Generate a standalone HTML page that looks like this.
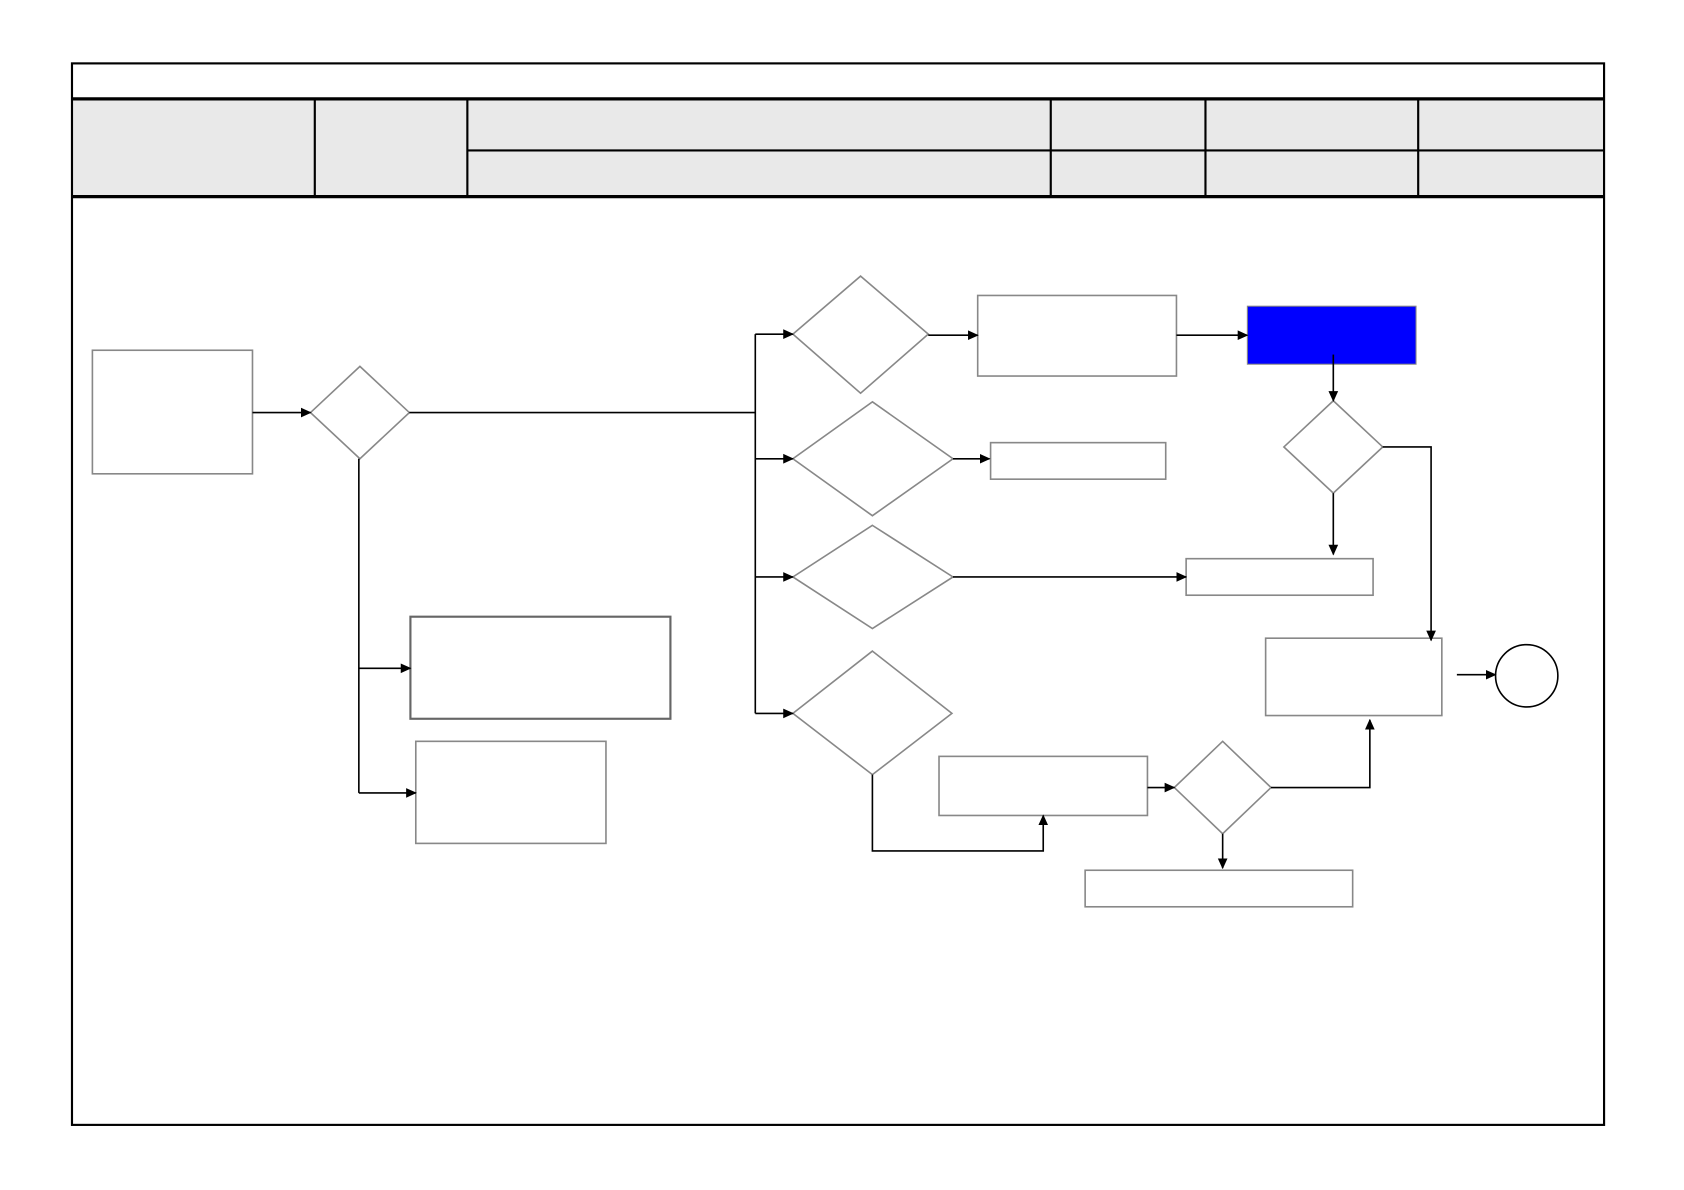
<!DOCTYPE html>
<html><head><meta charset="utf-8"><style>html,body{margin:0;padding:0;background:#fff}svg{display:block}</style></head>
<body>
<svg width="1684" height="1190" viewBox="0 0 1567.4 1107.6" preserveAspectRatio="none" xmlns="http://www.w3.org/2000/svg">
<defs><marker id="a" markerWidth="10" markerHeight="10" refX="9" refY="5" orient="auto" markerUnits="userSpaceOnUse"><path d="M0,0.5 L10,5 L0,9.5z" fill="#000"/></marker></defs>
<rect x="0" y="0" width="1568" height="1108" fill="#fff"/>
<rect x="67" y="92" width="1426" height="91" fill="#e9e9e9"/>
<rect x="67" y="59" width="1426" height="988" fill="none" stroke="#000" stroke-width="2"/>
<g stroke="#000" fill="none">
<line x1="67" y1="92" x2="1493" y2="92" stroke-width="3"/>
<line x1="67" y1="183" x2="1493" y2="183" stroke-width="3"/>
<line x1="435" y1="140" x2="1493" y2="140" stroke-width="2"/>
<line x1="293" y1="92" x2="293" y2="183" stroke-width="2"/>
<line x1="435" y1="92" x2="435" y2="183" stroke-width="2"/>
<line x1="978" y1="92" x2="978" y2="183" stroke-width="2"/>
<line x1="1122" y1="92" x2="1122" y2="183" stroke-width="2"/>
<line x1="1320" y1="92" x2="1320" y2="183" stroke-width="2"/>
</g>
<g fill="#fff" stroke="#888" stroke-width="1.5">
<rect x="86" y="326" width="149" height="115"/>
<polygon points="335,341 381,384 335,427 289,384"/>
<polygon points="801,257 864,311 801,366 738,311"/>
<polygon points="812,374 887,427 812,480 738,427"/>
<polygon points="812,489 887,537 812,585 738,537"/>
<polygon points="812,606 886,664 812,721 738,664"/>
<rect x="910" y="275" width="185" height="75"/>
<polygon points="1241,373 1287,416 1241,459 1195,416"/>
<rect x="922" y="412" width="163" height="34"/>
<rect x="1104" y="520" width="174" height="34"/>
<rect x="1178" y="594" width="164" height="72"/>
<rect x="874" y="704" width="194" height="55"/>
<polygon points="1138,690 1183,733 1138,776 1093,733"/>
<rect x="1010" y="810" width="249" height="34"/>
<rect x="382" y="574" width="242" height="95" stroke="#666" stroke-width="2"/>
<rect x="387" y="690" width="177" height="95"/>
</g>
<rect x="1161" y="285" width="157" height="54" fill="#0000ff" stroke="#888"/>
<circle cx="1421" cy="629" r="29" fill="#fff" stroke="#000" stroke-width="1.5"/>
<g stroke="#000" stroke-width="1.5" fill="none">
<line x1="235" y1="384" x2="289" y2="384" marker-end="url(#a)"/>
<line x1="381" y1="384" x2="703" y2="384"/>
<line x1="703" y1="311" x2="703" y2="664"/>
<line x1="703" y1="311" x2="738" y2="311" marker-end="url(#a)"/>
<line x1="703" y1="427" x2="738" y2="427" marker-end="url(#a)"/>
<line x1="703" y1="537" x2="738" y2="537" marker-end="url(#a)"/>
<line x1="703" y1="664" x2="738" y2="664" marker-end="url(#a)"/>
<line x1="864" y1="312" x2="910" y2="312" marker-end="url(#a)"/>
<line x1="1095" y1="312" x2="1161" y2="312" marker-end="url(#a)"/>
<line x1="1241" y1="330" x2="1241" y2="373" marker-end="url(#a)"/>
<line x1="1241" y1="459" x2="1241" y2="516" marker-end="url(#a)"/>
<polyline points="1287,416 1332,416 1332,596" marker-end="url(#a)"/>
<line x1="887" y1="427" x2="921" y2="427" marker-end="url(#a)"/>
<line x1="887" y1="537" x2="1104" y2="537" marker-end="url(#a)"/>
<line x1="1356" y1="628" x2="1392" y2="628" marker-end="url(#a)"/>
<polyline points="812,721 812,792 971,792 971,759" marker-end="url(#a)"/>
<line x1="1068" y1="733" x2="1093" y2="733" marker-end="url(#a)"/>
<polyline points="1183,733 1275,733 1275,670" marker-end="url(#a)"/>
<line x1="1138" y1="776" x2="1138" y2="808" marker-end="url(#a)"/>
<line x1="334" y1="427" x2="334" y2="738"/>
<line x1="334" y1="622" x2="382" y2="622" marker-end="url(#a)"/>
<line x1="334" y1="738" x2="387" y2="738" marker-end="url(#a)"/>
</g>
</svg>
</body></html>
